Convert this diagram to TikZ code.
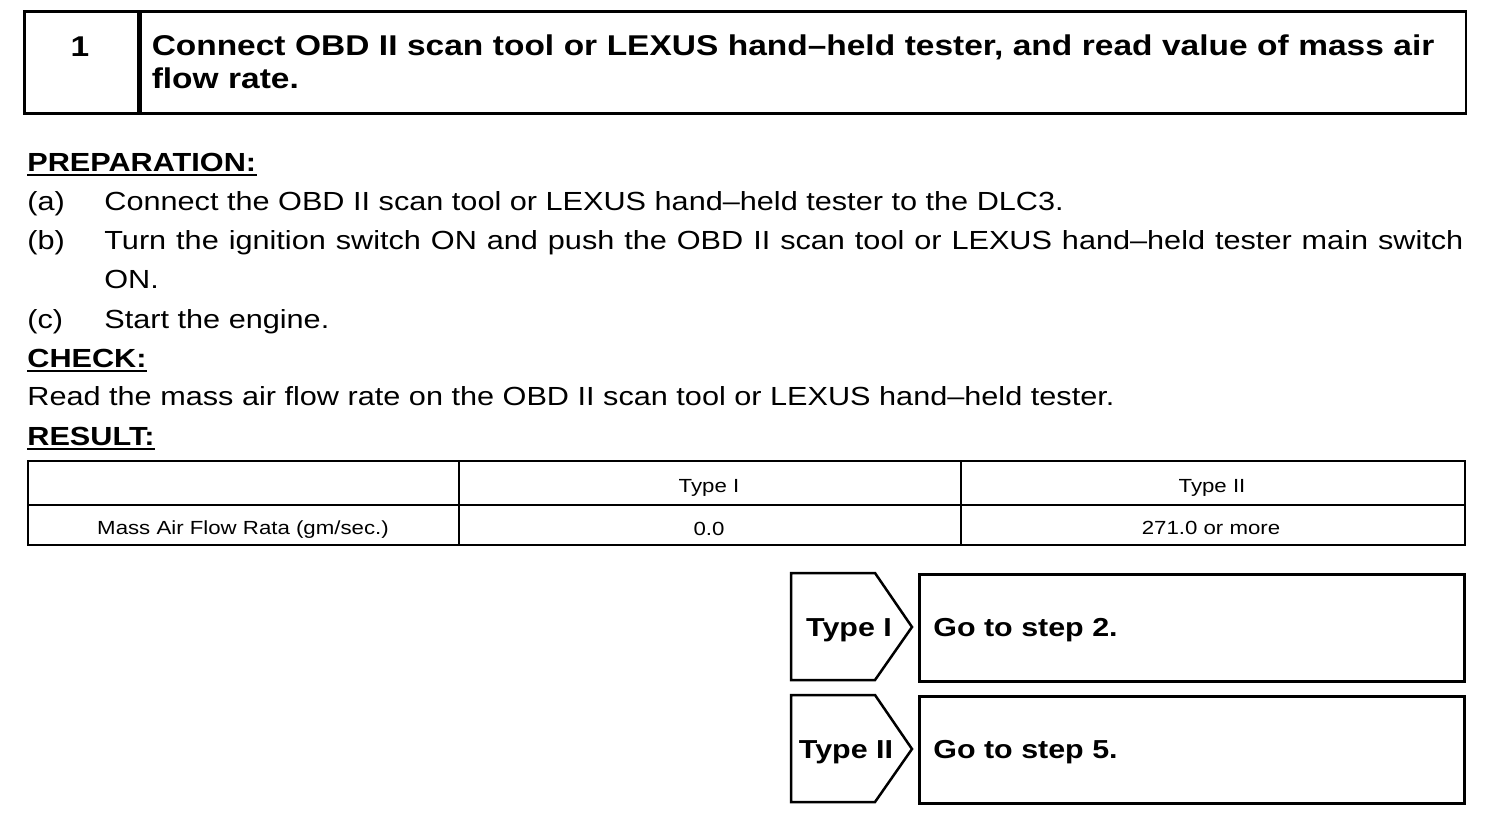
\documentclass[tikz,border=0pt]{standalone}
\usepackage{fontspec}
\setmainfont[FakeStretch=1.17]{Liberation Sans}
\usetikzlibrary{positioning}

\tikzset{
	frame/.style={draw=black, line width=2.5pt},
	body/.style={anchor=base west, inner sep=0pt, font=\fontsize{26.2}{30}\selectfont},
	cell/.style={inner sep=0pt, font=\fontsize{19}{22}\selectfont},
	big/.style={font=\fontsize{28.6}{33}\bfseries},
	tag/.style={inner sep=0pt, font=\fontsize{26}{30}\bfseries}
}
\newcommand{\ulbar}[1]{\draw[line width=2.5pt] ([yshift=-4pt]#1.base west) -- ([yshift=-4pt]#1.base east);}

\begin{document}
\begin{tikzpicture}[x=1pt, y=-1pt, thick]
	\useasboundingbox (0,0) rectangle (1504,822);
	
	% step header
	\node[frame, anchor=north west, minimum width=114pt, minimum height=102pt] (stepno) at (23,10) {};
	\node[big, inner sep=0pt, anchor=base] (num) at (80,56) {1};
	\node[frame, anchor=north west, minimum width=1325pt, minimum height=102pt, inner xsep=11pt, text width=1303pt, align=left, big] (steptitle) at (stepno.north east) {Connect OBD II scan tool or LEXUS hand--held tester, and read value of mass air\\flow rate.};
	
	% preparation
	\node[body, font=\fontsize{26.2}{30}\bfseries] (prep) at (27,171) {PREPARATION:};
	\ulbar{prep}
	\node[body] (la) at (27,210) {(a)};
	\node[body] (ta) at (104,210) {Connect the OBD II scan tool or LEXUS hand--held tester to the DLC3.};
	\node[body] (lb) at (27,249) {(b)};
	\node[body] (tb) at (104,249) {\makebox[1359pt][s]{Turn the ignition switch ON and push the OBD II scan tool or LEXUS hand--held tester main switch}};
	\node[body] (tb2) at (104,288) {ON.};
	\node[body] (lc) at (27,328) {(c)};
	\node[body] (tc) at (104,328) {Start the engine.};
	
	% check
	\node[body, font=\fontsize{26.2}{30}\bfseries] (check) at (27,367) {CHECK:};
	\ulbar{check}
	\node[body] (read) at (27,405) {Read the mass air flow rate on the OBD II scan tool or LEXUS hand--held tester.};
	\node[body, font=\fontsize{26.2}{30}\bfseries] (result) at (27,445) {RESULT:};
	\ulbar{result}
	
	% result table
	\draw[frame] (28,461) rectangle (1465,545);
	\draw[frame] (28,505) -- (1465,505);
	\draw[frame] (459,461) -- (459,545);
	\draw[frame] (961,461) -- (961,545);
	\node[cell] (typeone) at (709,488) {Type I};
	\node[cell] (typetwo) at (1212,488) {Type II};
	\node[cell] (maf) at (243,530) {Mass Air Flow Rata (gm/sec.)};
	\node[cell] (valone) at (709,529) {0.0};
	\node[cell] (valtwo) at (1211,528) {271.0 or more};
	
	% type branches
	\draw[frame, line join=miter] (791,573) -- (875,573) -- (912,627) -- (875,680) -- (791,680) -- cycle;
	\node[tag] (tagone) at (849,630) {Type I};
	\node[frame, anchor=north west, minimum width=545pt, minimum height=107pt] (goone) at (918,573) {};
	\node[tag, anchor=west] (stepa) at (933,630) {Go to step 2.};
	
	\draw[frame, line join=miter] (791,695) -- (875,695) -- (912,749) -- (875,802) -- (791,802) -- cycle;
	\node[tag] (tagtwo) at (846,752) {Type II};
	\node[frame, anchor=north west, minimum width=545pt, minimum height=107pt] (gotwo) at (918,695) {};
	\node[tag, anchor=west] (stepb) at (933,752) {Go to step 5.};
\end{tikzpicture}
\end{document}
